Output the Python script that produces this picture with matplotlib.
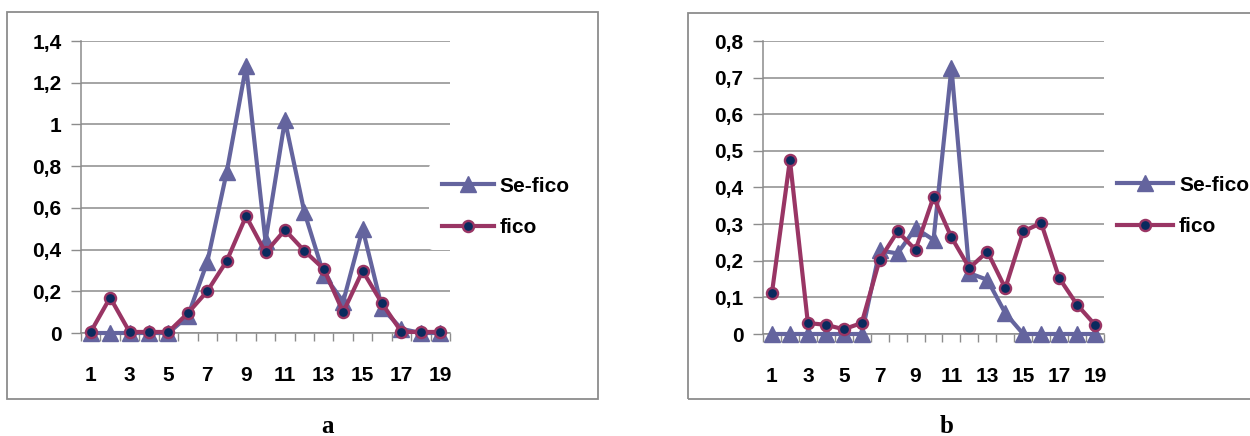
import matplotlib
matplotlib.use("Agg")
import matplotlib.pyplot as plt
from matplotlib.patches import Rectangle

plt.rcParams['font.family'] = ['Liberation Sans', 'DejaVu Sans']

samples = list(range(1, 20))

se_fico_a = [0, 0, 0, 0, 0, 0.08, 0.34, 0.77, 1.28, 0.44, 1.02, 0.58,
             0.28, 0.15, 0.50, 0.12, 0.02, 0, 0]
fico_a = [0.005, 0.17, 0.005, 0.005, 0.005, 0.095, 0.20, 0.345, 0.56, 0.386,
          0.494, 0.394, 0.307, 0.10, 0.298, 0.142, 0.005, 0.005, 0.005]

se_fico_b = [0, 0, 0, 0, 0, 0, 0.228, 0.22, 0.289, 0.257, 0.727, 0.166,
             0.148, 0.057, 0, 0, 0, 0, 0]
fico_b = [0.113, 0.475, 0.03, 0.025, 0.013, 0.03, 0.203, 0.28, 0.23, 0.374,
          0.264, 0.18, 0.225, 0.125, 0.28, 0.303, 0.153, 0.08, 0.025]

ticks_a = [0, 0.2, 0.4, 0.6, 0.8, 1.0, 1.2, 1.4]
ticks_b = [0, 0.1, 0.2, 0.3, 0.4, 0.5, 0.6, 0.7, 0.8]

SE_COLOR = "#64649E"
FICO_COLOR = "#993564"
FICO_FACE = "#0A2A5E"
GRID = "#8C8C8C"
W, H = 1250, 436


def fmt(v):
    s = f"{v:.1f}".rstrip("0").rstrip(".")
    return s.replace(".", ",")


def draw_panel(fig, rect, se, fico, yticks, legend_pos, handlelength):
    ax = fig.add_axes(rect)

    ax.plot(samples, se, color=SE_COLOR, lw=3, marker="^",
            markersize=11, label="Se-fico", clip_on=False, zorder=3)
    ax.plot(samples, fico, color=FICO_COLOR, lw=3, marker="o",
            markersize=8, markerfacecolor=FICO_FACE,
            markeredgecolor=FICO_COLOR, markeredgewidth=1.7,
            label="fico", clip_on=False, zorder=4)

    ax.set_xlim(0.5, 19.5)
    ax.set_ylim(0, yticks[-1])

    ax.set_yticks(yticks)
    ax.set_yticklabels([fmt(t) for t in yticks])
    ax.set_xticks(samples[::2])
    ax.set_xticks([i + 0.5 for i in range(0, 20)], minor=True)

    ax.tick_params(axis="y", length=7, width=1, color=GRID, pad=7,
                   labelsize=15)
    ax.tick_params(axis="x", which="major", length=0, pad=24, labelsize=15)
    ax.tick_params(axis="x", which="minor", length=6, width=1, color=GRID)
    for lab in ax.get_xticklabels() + ax.get_yticklabels():
        lab.set_fontweight("bold")

    ax.grid(axis="y", color=GRID, lw=1.1)
    ax.set_axisbelow(True)
    for side in ["top", "right"]:
        ax.spines[side].set_visible(False)
    for side in ["left", "bottom"]:
        ax.spines[side].set_color(GRID)
        ax.spines[side].set_linewidth(1.1)

    leg = ax.legend(loc="center left", bbox_to_anchor=legend_pos,
                    bbox_transform=fig.transFigure,
                    frameon=True, facecolor="white", edgecolor="none",
                    framealpha=1, handlelength=handlelength,
                    handletextpad=0.3, labelspacing=1.1, borderpad=0.6,
                    borderaxespad=0, prop={"weight": "bold", "size": 15})
    leg.set_zorder(5)
    return ax


fig = plt.figure(figsize=(12.5, 4.36), dpi=100)

fig.add_artist(Rectangle((7 / W, 1 - 399 / H), (598 - 7) / W, (399 - 12) / H,
                         transform=fig.transFigure, fill=False,
                         edgecolor="#8C8C8C", lw=1.3))
fig.add_artist(Rectangle((688 / W, 1 - 399 / H), (1260 - 688) / W,
                         (399 - 13) / H, transform=fig.transFigure,
                         fill=False, edgecolor="#8C8C8C", lw=1.3))

draw_panel(fig, [81 / W, 103 / H, 369 / W, 292 / H],
           se_fico_a, fico_a, ticks_a, (429 / W, 1 - 207 / H), 2.5)
draw_panel(fig, [763 / W, 102 / H, 341 / W, 293 / H],
           se_fico_b, fico_b, ticks_b, (1104 / W, 1 - 206 / H), 2.7)

fig.text(327 / W, 1 - 426 / H, "a", family="Liberation Serif",
         weight="bold", fontsize=18, ha="center", va="center")
fig.text(947 / W, 1 - 426 / H, "b", family="Liberation Serif",
         weight="bold", fontsize=18, ha="center", va="center")

fig.savefig("out.png", dpi=100)
